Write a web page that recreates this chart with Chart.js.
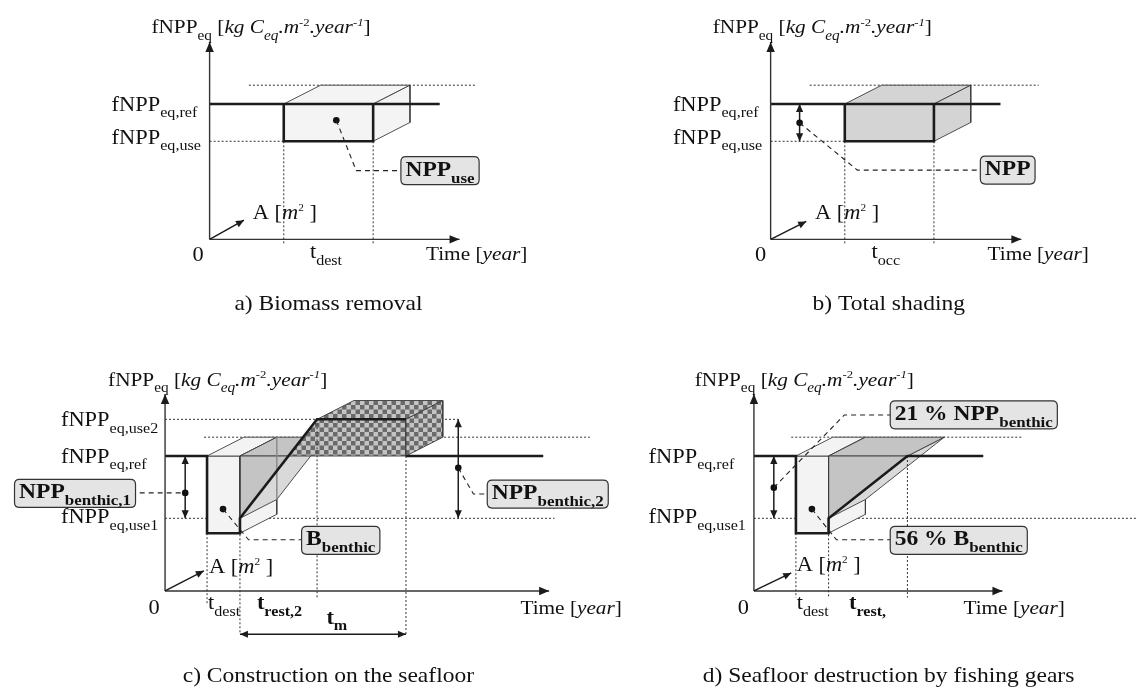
<!DOCTYPE html>
<html>
<head>
<meta charset="utf-8">
<title>fNPP schematics</title>
<script src="https://cdn.jsdelivr.net/npm/chart.js@4/dist/chart.umd.min.js"></script>
<style>
  html, body { margin: 0; padding: 0; background: #fff; }
  canvas { display: block; }
</style>
</head>
<body>
<canvas id="fig" width="1140" height="693"></canvas>
<script>
// values, in diagram units (time along x, fNPP_eq along y)
var depth = [1.5, 1.0];                 // perspective offset of the area (A) axis

// a) Biomass removal
var aTimes  = [3.02, 6.66];             // start / end of t_dest
var aLevels = [7.19, 5.21];             // fNPP_eq,ref , fNPP_eq,use
var aAxes   = [10.18, 10.49];           // tips of time axis and fNPP axis
var aArea   = [1.40, 1.02];             // tip of the A [m2] arrow
var aRefEnd = 9.37;
var aGuide  = [1.60, 10.87];
var aDot    = [5.16, 6.33];

// b) Total shading
var bTimes  = [3.02, 6.65];             // start / end of t_occ
var bLevels = [7.19, 5.21];
var bAxes   = [10.21, 10.49];
var bArea   = [1.45, 0.95];
var bRefEnd = 9.36;
var bGuide  = [1.59, 10.92];
var bDot    = [1.18, 6.19];

// c) Construction on the seafloor
var cTimes  = [1.71, 3.05, 6.19, 9.81]; // t_dest, start t_rest,2, use2 reached, end of t_m
var cLevels = [9.12, 7.17, 3.86, 3.07]; // use2, ref, use1, floor after destruction
var cAxes   = [15.64, 10.47];
var cArea   = [1.58, 1.07];
var cRefEnd = 15.40;
var cDots   = [[0.82, 5.21], [11.94, 6.54], [2.36, 4.35]];

// d) Seafloor destruction by fishing gears
var dTimes  = [1.71, 3.04, 6.25];       // t_dest, start t_rest, back at ref
var dLevels = [7.17, 3.86, 3.07];       // ref, use1, floor
var dAxes   = [10.12, 10.47];
var dArea   = [1.52, 0.96];
var dRefEnd = 9.34;
var dDots   = [[0.81, 5.49], [2.36, 4.35]];

// ---- layout ----
var W = 1140, H = 693, UX = 24.7, UY = 19;
var origin = { a: [207.5, 238.3], b: [771.8, 238.3], c: [162.7, 593.3], d: [755, 593.3] };

var THICK = { w: 2.6, c: '#1b1b1b' };
var THIN  = { w: 0.9, c: '#3c3c3c' };
var FAINT = { w: 0.8, c: '#8c8c8c' };
var AXIS  = { w: 1.4, c: '#333' };
var ARR   = { w: 1.5, c: '#1b1b1b' };
var DOT   = { w: 1, c: '#333', dash: [2, 2] };
var DASH  = { w: 1.1, c: '#222', dash: [5, 4] };

function checker() {
  var c = document.createElement('canvas');
  c.width = c.height = 9;
  var g = c.getContext('2d');
  g.fillStyle = '#c4c4c4'; g.fillRect(0, 0, 9, 9);
  g.fillStyle = '#6a6a6a'; g.fillRect(0, 0, 4.5, 4.5); g.fillRect(4.5, 4.5, 4.5, 4.5);
  return g.createPattern(c, 'repeat');
}
var CHECK = checker();

var datasets = [], heads = [];

function add(p, pts, st, bg) {
  var none = st.w === 0;
  datasets.push({
    xAxisID: 'x' + p, yAxisID: 'y' + p,
    data: pts.map(function (q) { return { x: q[0], y: q[1] }; }),
    borderColor: none ? 'rgba(0,0,0,0)' : st.c,
    borderWidth: none ? 1 : st.w,
    borderDash: st.dash || [],
    backgroundColor: bg || 'rgba(0,0,0,0)',
    fill: bg ? 'shape' : false,
    pointRadius: 0, pointHoverRadius: 0,
    tension: 0, borderJoinStyle: 'miter', borderCapStyle: 'butt'
  });
}
function poly(p, pts, bg, st) { add(p, pts.concat([pts[0]]), st || THIN, bg); }
function dot(p, q) {
  datasets.push({
    xAxisID: 'x' + p, yAxisID: 'y' + p, data: [{ x: q[0], y: q[1] }],
    showLine: false, pointRadius: 3.3, pointHoverRadius: 3.3,
    pointBackgroundColor: '#111', pointBorderWidth: 0, borderColor: '#111'
  });
}
function arrow(p, from, tip, big) {
  add(p, [from, tip], big ? AXIS : ARR);
  heads.push({ p: p, from: from, tip: tip, big: big });
}
function dbl(p, a, b) {
  add(p, [a, b], ARR);
  heads.push({ p: p, from: b, tip: a });
  heads.push({ p: p, from: a, tip: b });
}
function axes(p, ax, area) {
  arrow(p, [0, 0], [0, ax[1]], true);
  arrow(p, [0, 0], [ax[0], 0], true);
  arrow(p, [0, 0], area, false);
}
function cuboid(p, x0, x1, yTop, yBot, bg, frontBorder) {
  var dx = depth[0], dy = depth[1];
  poly(p, [[x0, yTop], [x1, yTop], [x1, yBot], [x0, yBot]], bg, frontBorder);
  poly(p, [[x0, yTop], [x0 + dx, yTop + dy], [x1 + dx, yTop + dy], [x1, yTop]], bg);
  poly(p, [[x1, yTop], [x1 + dx, yTop + dy], [x1 + dx, yBot + dy], [x1, yBot]], bg);
}

// a) and b): box between ref and use level
function simple(p, times, levels, ax, area, refEnd, guide, bg) {
  var t0 = times[0], t1 = times[1], ref = levels[0], use = levels[1];
  add(p, [[guide[0], ref + depth[1]], [guide[1], ref + depth[1]]], DOT);
  add(p, [[0, use], [t0, use]], DOT);
  add(p, [[t0, use], [t0, -0.3]], DOT);
  add(p, [[t1, use], [t1, -0.3]], DOT);
  cuboid(p, t0, t1, ref, use, bg, { w: 0 });
  add(p, [[0, ref], [refEnd, ref]], THICK);
  add(p, [[t0, ref], [t0, use], [t1, use], [t1, ref]], THICK);
  axes(p, ax, area);
}
simple('a', aTimes, aLevels, aAxes, aArea, aRefEnd, aGuide, '#f4f4f4');
dot('a', aDot);
add('a', [aDot, [5.97, 3.65], [7.79, 3.65]], DASH);

simple('b', bTimes, bLevels, bAxes, bArea, bRefEnd, bGuide, '#d4d4d4');
dbl('b', [bDot[0], bLevels[0]], [bDot[0], bLevels[1]]);
dot('b', bDot);
add('b', [bDot, [3.53, 3.68], [8.54, 3.68]], DASH);

// c)
(function () {
  var p = 'c', t = cTimes, use2 = cLevels[0], ref = cLevels[1], use1 = cLevels[2], floor = cLevels[3];
  var dx = depth[0], dy = depth[1];
  var xr = t[1] + (t[2] - t[1]) * (ref - use1) / (use2 - use1);
  add(p, [[1.59, ref + dy], [17.3, ref + dy]], DOT);
  add(p, [[0, use1], [15.86, use1]], DOT);
  add(p, [[0, use2], [11.94, use2]], DOT);
  cuboid(p, t[0], t[1], ref, floor, '#f3f3f3');
  poly(p, [[t[1], use1], [xr, ref], [xr + dx, ref + dy], [t[1] + dx, use1 + dy]], '#d9d9d9');
  poly(p, [[t[1], ref], [t[1] + dx, ref + dy], [xr + dx, ref + dy], [xr, ref]], '#c4c4c4');
  poly(p, [[t[1], ref], [t[1], use1], [xr, ref]], '#c4c4c4');
  add(p, [[t[1] + dx, ref + dy], [t[1] + dx, use1 + dy]], FAINT);
  poly(p, [[xr, ref], [t[2], use2], [t[3], use2], [t[3], ref]], CHECK);
  poly(p, [[t[2], use2], [t[2] + dx, use2 + dy], [t[3] + dx, use2 + dy], [t[3], use2]], CHECK);
  poly(p, [[t[3], use2], [t[3] + dx, use2 + dy], [t[3] + dx, ref + dy], [t[3], ref]], CHECK);
  add(p, [[t[0], floor], [t[0], -0.72]], DOT);
  add(p, [[t[1], use1], [t[1], -2.3]], DOT);
  add(p, [[t[2], use2], [t[2], -0.35]], DOT);
  add(p, [[t[3], ref], [t[3], -2.3]], DOT);
  add(p, [[0, ref], [t[0], ref], [t[0], floor], [t[1], floor], [t[1], use1], [t[2], use2], [t[3], use2]], THICK);
  add(p, [[t[3], ref], [cRefEnd, ref]], THICK);
  axes(p, cAxes, cArea);
  dbl(p, [cDots[0][0], ref], [cDots[0][0], use1]);
  dbl(p, [cDots[1][0], use2], [cDots[1][0], use1]);
  dbl(p, [t[1], -2.3], [t[3], -2.3]);
  cDots.forEach(function (q) { dot(p, q); });
  add(p, [[-1.40, cDots[0][1]], cDots[0]], DASH);
  add(p, [cDots[1], [12.56, 5.15], [13.12, 5.15]], DASH);
  add(p, [cDots[2], [3.40, 2.72], [5.56, 2.72]], DASH);
})();

// d)
(function () {
  var p = 'd', t = dTimes, ref = dLevels[0], use1 = dLevels[1], floor = dLevels[2];
  var dx = depth[0], dy = depth[1], xr = t[2];
  add(p, [[1.52, ref + dy], [10.89, ref + dy]], DOT);
  add(p, [[0, use1], [15.6, use1]], DOT);
  cuboid(p, t[0], t[1], ref, floor, '#f3f3f3');
  poly(p, [[t[1], use1], [xr, ref], [xr + dx, ref + dy], [t[1] + dx, use1 + dy]], '#d9d9d9');
  poly(p, [[t[1], ref], [t[1] + dx, ref + dy], [xr + dx, ref + dy], [xr, ref]], '#c4c4c4');
  poly(p, [[t[1], ref], [t[1], use1], [xr, ref]], '#c4c4c4');
  add(p, [[t[0], floor], [t[0], -0.35]], DOT);
  add(p, [[t[1], use1], [t[1], -0.35]], DOT);
  add(p, [[t[2], ref], [t[2], -0.35]], DOT);
  add(p, [[0, ref], [t[0], ref], [t[0], floor], [t[1], floor], [t[1], use1], [t[2], ref], [dRefEnd, ref]], THICK);
  axes(p, dAxes, dArea);
  dbl(p, [dDots[0][0], ref], [dDots[0][0], use1]);
  dDots.forEach(function (q) { dot(p, q); });
  add(p, [dDots[0], [3.68, 9.35], [5.55, 9.35]], DASH);
  add(p, [dDots[1], [3.36, 2.72], [5.55, 2.72]], DASH);
})();

// later datasets on top
datasets.forEach(function (d, i) { d.order = datasets.length - i; });

// ---- texts ----
function S(t, o) { return Object.assign({ t: t, sub: 1 }, o || {}); }
var YLAB = ['fNPP', S('eq'), ' [', { t: 'kg C', i: 1 }, S('eq', { i: 1 }), { t: '.m', i: 1 },
  { t: '-2', sup: 1 }, { t: '.year', i: 1 }, { t: '-1', sup: 1, i: 1 }, ']'];
var AREA = ['A [', { t: 'm', i: 1 }, { t: '2', sup: 1, small: 1 }, ' ]'];
var TIME = ['Time [', { t: 'year', i: 1 }, ']'];

var labels = [
  { p: 'a', at: [-2.37, 11.28], runs: YLAB, size: 19 },
  { p: 'a', at: [-3.99, aLevels[0]], runs: ['fNPP', S('eq,ref')] },
  { p: 'a', at: [-3.99, 5.44], runs: ['fNPP', S('eq,use')] },
  { p: 'a', at: [-0.47, -0.8], runs: ['0'], align: 'center' },
  { p: 'a', at: [4.74, -0.65], runs: ['t', S('dest')], align: 'center' },
  { p: 'a', at: [8.81, -0.77], runs: TIME, size: 19 },
  { p: 'a', at: [1.76, 1.44], runs: AREA },
  { p: 'a', at: [4.84, -3.41], runs: ['a) Biomass removal'], align: 'center', size: 21 },
  { p: 'a', at: [7.79, 3.65], runs: ['NPP', S('use')], box: 1 },

  { p: 'b', at: [-2.36, 11.28], runs: YLAB, size: 19 },
  { p: 'b', at: [-3.98, bLevels[0]], runs: ['fNPP', S('eq,ref')] },
  { p: 'b', at: [-3.98, 5.44], runs: ['fNPP', S('eq,use')] },
  { p: 'b', at: [-0.41, -0.8], runs: ['0'], align: 'center' },
  { p: 'b', at: [4.69, -0.65], runs: ['t', S('occ')], align: 'center' },
  { p: 'b', at: [8.83, -0.77], runs: TIME, size: 19 },
  { p: 'b', at: [1.81, 1.44], runs: AREA },
  { p: 'b', at: [4.81, -3.41], runs: ['b) Total shading'], align: 'center', size: 21 },
  { p: 'b', at: [8.54, 3.68], runs: ['NPP'], box: 1 },

  { p: 'c', at: [-2.32, 11.23], runs: YLAB, size: 19 },
  { p: 'c', at: [-4.24, cLevels[0]], runs: ['fNPP', S('eq,use2')] },
  { p: 'c', at: [-4.24, cLevels[1]], runs: ['fNPP', S('eq,ref')] },
  { p: 'c', at: [-4.24, 3.96], runs: ['fNPP', S('eq,use1')] },
  { p: 'c', at: [-0.45, -0.88], runs: ['0'], align: 'center' },
  { p: 'c', at: [1.75, -0.62], runs: ['t', S('dest')] },
  { p: 'c', at: [3.74, -0.62], runs: ['t', S('rest,2')], bold: 1 },
  { p: 'c', at: [6.57, -1.4], runs: ['t', S('m')], bold: 1 },
  { p: 'c', at: [14.47, -0.88], runs: TIME, size: 19 },
  { p: 'c', at: [1.79, 1.33], runs: AREA },
  { p: 'c', at: [6.65, -4.46], runs: ['c) Construction on the seafloor'], align: 'center', size: 21 },
  { p: 'c', at: [-6.13, 5.18], runs: ['NPP', S('benthic,1')], box: 1 },
  { p: 'c', at: [5.56, 2.69], runs: ['B', S('benthic')], box: 1 },
  { p: 'c', at: [13.12, 5.15], runs: ['NPP', S('benthic,2')], box: 1 },

  { p: 'd', at: [-2.41, 11.23], runs: YLAB, size: 19 },
  { p: 'd', at: [-4.29, dLevels[0]], runs: ['fNPP', S('eq,ref')] },
  { p: 'd', at: [-4.29, 3.96], runs: ['fNPP', S('eq,use1')] },
  { p: 'd', at: [-0.43, -0.88], runs: ['0'], align: 'center' },
  { p: 'd', at: [1.74, -0.62], runs: ['t', S('dest')] },
  { p: 'd', at: [3.87, -0.62], runs: ['t', S('rest,')], bold: 1 },
  { p: 'd', at: [8.53, -0.88], runs: TIME, size: 19 },
  { p: 'd', at: [1.74, 1.4], runs: AREA },
  { p: 'd', at: [5.48, -4.46], runs: ['d) Seafloor destruction by fishing gears'], align: 'center', size: 21 },
  { p: 'd', at: [5.55, 9.36], runs: ['21 % NPP', S('benthic')], box: 1 },
  { p: 'd', at: [5.55, 2.69], runs: ['56 % B', S('benthic')], box: 1 }
];

var FAMILY = '"Liberation Serif", "Times New Roman", serif';
var HS = 1.12;   // the figure's lettering is slightly wide

function rich(ctx, runs, x, y, align, size, bold, dry) {
  var parts = runs.map(function (r) {
    if (typeof r === 'string') r = { t: r };
    var sz = r.sub ? size * 0.72 : r.sup ? size * (r.small ? 0.5 : 0.6) : size;
    var font = (r.i ? 'italic ' : '') + ((r.b || bold) ? 'bold ' : '') + sz + 'px ' + FAMILY;
    ctx.font = font;
    return { r: r, font: font, w: ctx.measureText(r.t).width * HS };
  });
  var total = parts.reduce(function (s, q) { return s + q.w; }, 0);
  if (dry) return total;
  var cx = align === 'center' ? x - total / 2 : align === 'right' ? x - total : x;
  var base = y + size * 0.33;
  parts.forEach(function (q) {
    ctx.font = q.font;
    var by = q.r.sub ? base + size * 0.33 : q.r.sup ? base - size * 0.4 : base;
    ctx.save();
    ctx.translate(cx, by);
    ctx.scale(HS, 1);
    ctx.fillText(q.r.t, 0, 0);
    ctx.restore();
    cx += q.w;
  });
  return total;
}

function roundRect(ctx, x, y, w, h, r) {
  ctx.beginPath();
  ctx.moveTo(x + r, y);
  ctx.lineTo(x + w - r, y); ctx.quadraticCurveTo(x + w, y, x + w, y + r);
  ctx.lineTo(x + w, y + h - r); ctx.quadraticCurveTo(x + w, y + h, x + w - r, y + h);
  ctx.lineTo(x + r, y + h); ctx.quadraticCurveTo(x, y + h, x, y + h - r);
  ctx.lineTo(x, y + r); ctx.quadraticCurveTo(x, y, x + r, y);
  ctx.closePath();
}

var overlay = {
  id: 'overlay',
  afterDatasetsDraw: function (chart) {
    var ctx = chart.ctx;
    function px(p, q) {
      return [chart.scales['x' + p].getPixelForValue(q[0]), chart.scales['y' + p].getPixelForValue(q[1])];
    }
    ctx.save();
    ctx.fillStyle = '#1b1b1b';
    heads.forEach(function (h) {
      var a = px(h.p, h.tip), b = px(h.p, h.from);
      var ang = Math.atan2(a[1] - b[1], a[0] - b[0]);
      var L = h.big ? 10 : 8, w = h.big ? 4.2 : 3.6;
      var c = Math.cos(ang), s = Math.sin(ang);
      ctx.beginPath();
      ctx.moveTo(a[0], a[1]);
      ctx.lineTo(a[0] - L * c + w * s, a[1] - L * s - w * c);
      ctx.lineTo(a[0] - L * c - w * s, a[1] - L * s + w * c);
      ctx.closePath();
      ctx.fill();
    });
    ctx.textBaseline = 'alphabetic';
    ctx.textAlign = 'left';
    labels.forEach(function (l) {
      var q = px(l.p, l.at);
      if (l.box) {
        var size = 21;
        var w = rich(ctx, l.runs, 0, 0, 'left', size, true, true);
        roundRect(ctx, q[0], q[1] - 14, w + 9, 28, 5);
        ctx.fillStyle = '#e4e4e4';
        ctx.fill();
        ctx.lineWidth = 1.2;
        ctx.strokeStyle = '#333';
        ctx.stroke();
        ctx.fillStyle = '#111';
        rich(ctx, l.runs, q[0] + 4.5, q[1] - 2, 'left', size, true);
      } else {
        ctx.fillStyle = '#111';
        rich(ctx, l.runs, q[0], q[1], l.align || 'left', l.size || 20, !!l.bold);
      }
    });
    ctx.restore();
  }
};

var scales = {};
Object.keys(origin).forEach(function (p) {
  var ox = origin[p][0], oy = origin[p][1];
  scales['x' + p] = { type: 'linear', axis: 'x', display: false, bounds: 'data',
    min: -ox / UX, max: (W - ox) / UX };
  scales['y' + p] = { type: 'linear', axis: 'y', display: false, bounds: 'data',
    min: -(H - oy) / UY, max: oy / UY };
});

new Chart(document.getElementById('fig').getContext('2d'), {
  type: 'line',
  data: { datasets: datasets },
  options: {
    responsive: false,
    animation: false,
    devicePixelRatio: 1,
    events: [],
    layout: { padding: 0 },
    scales: scales,
    plugins: { legend: { display: false }, tooltip: { enabled: false } }
  },
  plugins: [overlay]
});
</script>
</body>
</html>
